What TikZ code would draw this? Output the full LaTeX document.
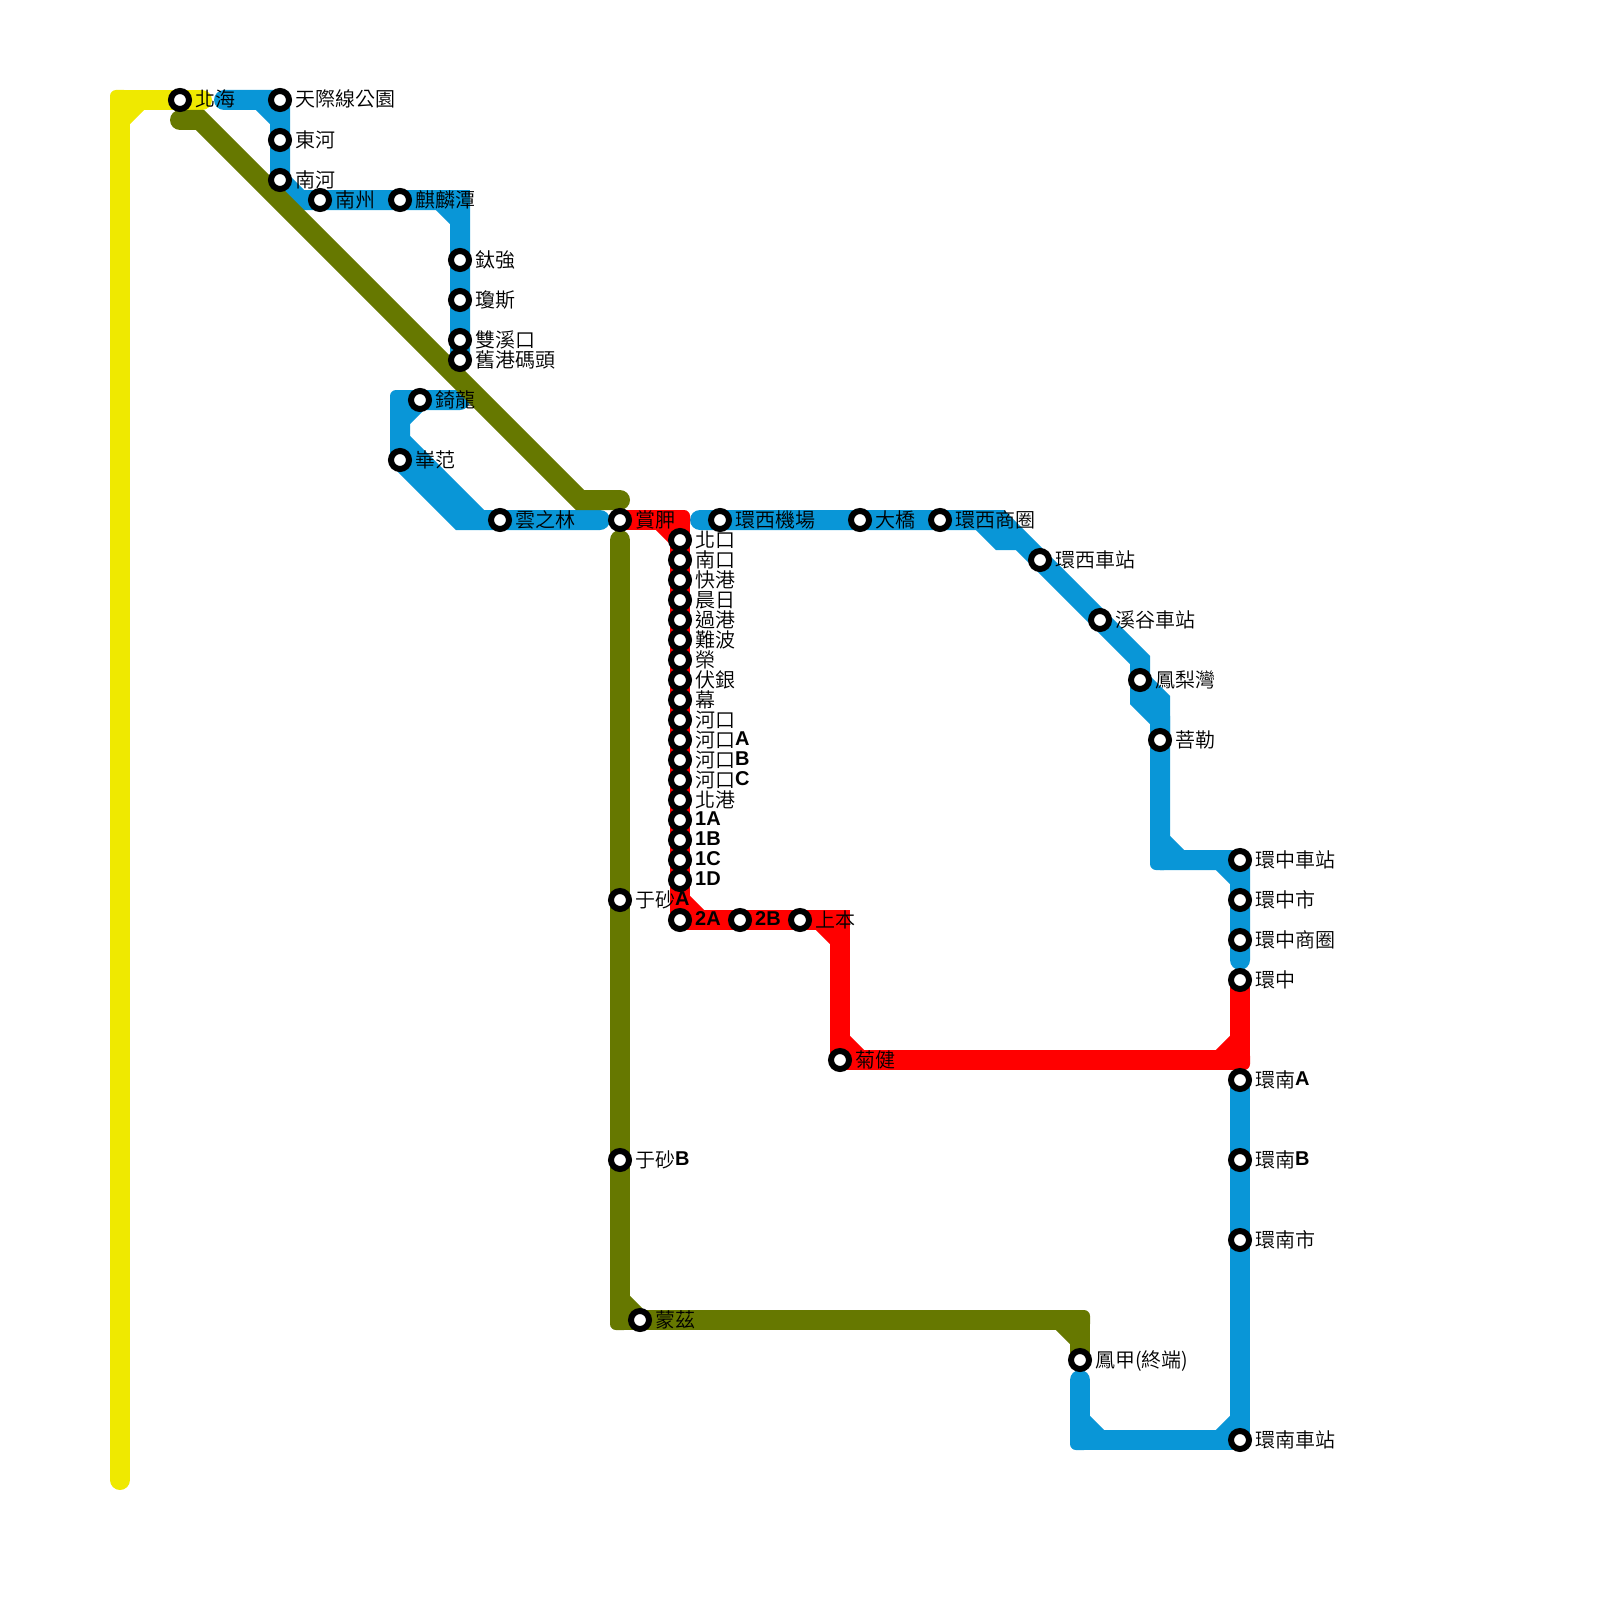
\documentclass[tikz,border=0pt]{standalone}
\usepackage{fontspec}
\setmainfont{Noto Sans CJK TC DemiLight}
\newfontfamily\latinfont{Liberation Sans}
\usetikzlibrary{calc,backgrounds}
\definecolor{metroyellow}{RGB}{239,233,0}
\definecolor{metroblue}{RGB}{9,150,215}
\definecolor{metrored}{RGB}{255,0,0}
\definecolor{metroolive}{RGB}{102,120,0}
\newcommand{\lat}[1]{\raisebox{2pt}{\latinfont\bfseries #1}}
% right-angle bend: outer corner plus inner chamfer
\newcommand{\bend}[5][6pt]{%
  \fill[#2,rounded corners=#1] ($(#4)+(-10,-10)$) rectangle ($(#4)+(10,10)$);
  \draw[#2,line width=20pt] ($(#4)!20pt!(#3)$)--($(#4)!20pt!(#5)$);
}

\begin{document}
\begin{tikzpicture}[
  x=1pt,
  y=-1pt,
  metroline/.style={line width=20pt,line cap=round,line join=miter,miter limit=1.2},
  stn/.style={
    circle,
    draw=black,
    fill=white,
    line width=6pt,
    minimum size=18pt,
    inner sep=0pt,
    outer sep=0pt
  },
  stnlabel/.style={
    font=\fontsize{20}{20}\selectfont,
    text=black,
    inner sep=0pt,
    text height=17pt,
    text depth=3pt,
    xshift=6pt
  }
]
\useasboundingbox (0,0) rectangle (1600,1600);

% Stations, north-west part
\node[stn,label={[stnlabel]right:北海}] (beihai) at (180,100) {};
\node[stn,label={[stnlabel]right:天際線公園}] (tianji) at (280,100) {};
\node[stn,label={[stnlabel]right:東河}] (donghe) at (280,140) {};
\node[stn,label={[stnlabel]right:南河}] (nanhe) at (280,180) {};
\node[stn,label={[stnlabel]right:南州}] (nanzhou) at (320,200) {};
\node[stn,label={[stnlabel]right:麒麟潭}] (qilin) at (400,200) {};
\node[stn,label={[stnlabel]right:鈦強}] (taiqiang) at (460,260) {};
\node[stn,label={[stnlabel]right:瓊斯}] (qiongsi) at (460,300) {};
\node[stn,label={[stnlabel]right:雙溪口}] (shuangxi) at (460,340) {};
\node[stn,label={[stnlabel]right:舊港碼頭}] (jiugang) at (460,360) {};
\node[stn,label={[stnlabel]right:錡龍}] (yilong) at (420,400) {};
\node[stn,label={[stnlabel]right:崋范}] (bifan) at (400,460) {};
\node[stn,label={[stnlabel]right:雲之林}] (yunzhi) at (500,520) {};
\node[stn,label={[stnlabel]right:賞胛}] (binjia) at (620,520) {};

% Stations, central column
\node[stn,label={[stnlabel]right:北口}] (beikou) at (680,540) {};
\node[stn,label={[stnlabel]right:南口}] (nankou) at (680,560) {};
\node[stn,label={[stnlabel]right:快港}] (kuaigang) at (680,580) {};
\node[stn,label={[stnlabel]right:晨日}] (chenri) at (680,600) {};
\node[stn,label={[stnlabel]right:過港}] (guogang) at (680,620) {};
\node[stn,label={[stnlabel]right:難波}] (nanbo) at (680,640) {};
\node[stn,label={[stnlabel]right:榮}] (rong) at (680,660) {};
\node[stn,label={[stnlabel]right:伏銀}] (fuyin) at (680,680) {};
\node[stn,label={[stnlabel]right:幕}] (mu) at (680,700) {};
\node[stn,label={[stnlabel]right:河口}] (hekou) at (680,720) {};
\node[stn,label={[stnlabel]right:河口\lat{A}}] (hekouA) at (680,740) {};
\node[stn,label={[stnlabel]right:河口\lat{B}}] (hekouB) at (680,760) {};
\node[stn,label={[stnlabel]right:河口\lat{C}}] (hekouC) at (680,780) {};
\node[stn,label={[stnlabel]right:北港}] (beigang) at (680,800) {};
\node[stn,label={[stnlabel]right:\lat{1A}}] (oneA) at (680,820) {};
\node[stn,label={[stnlabel]right:\lat{1B}}] (oneB) at (680,840) {};
\node[stn,label={[stnlabel]right:\lat{1C}}] (oneC) at (680,860) {};
\node[stn,label={[stnlabel]right:\lat{1D}}] (oneD) at (680,880) {};
\node[stn,label={[stnlabel]right:\lat{2A}}] (twoA) at (680,920) {};
\node[stn,label={[stnlabel]right:\lat{2B}}] (twoB) at (740,920) {};
\node[stn,label={[stnlabel]right:上本}] (shangben) at (800,920) {};
\node[stn,label={[stnlabel]right:菊健}] (jujian) at (840,1060) {};
\node[stn,label={[stnlabel]right:于砂\lat{A}}] (yushaA) at (620,900) {};
\node[stn,label={[stnlabel]right:于砂\lat{B}}] (yushaB) at (620,1160) {};
\node[stn,label={[stnlabel]right:蒙茲}] (mengzi) at (640,1320) {};
\node[stn,label={[stnlabel]right:鳳甲(終端)}] (fengjia) at (1080,1360) {};

% Stations, eastern part
\node[stn,label={[stnlabel]right:環西機場}] (huanxiji) at (720,520) {};
\node[stn,label={[stnlabel]right:大橋}] (daqiao) at (860,520) {};
\node[stn,label={[stnlabel]right:環西商圈}] (huanxiquan) at (940,520) {};
\node[stn,label={[stnlabel]right:環西車站}] (huanxizhan) at (1040,560) {};
\node[stn,label={[stnlabel]right:溪谷車站}] (xigu) at (1100,620) {};
\node[stn,label={[stnlabel]right:鳳梨灣}] (fengli) at (1140,680) {};
\node[stn,label={[stnlabel]right:菩勒}] (pule) at (1160,740) {};
\node[stn,label={[stnlabel]right:環中車站}] (huanzhongzhan) at (1240,860) {};
\node[stn,label={[stnlabel]right:環中市}] (huanzhongshi) at (1240,900) {};
\node[stn,label={[stnlabel]right:環中商圈}] (huanzhongquan) at (1240,940) {};
\node[stn,label={[stnlabel]right:環中}] (huanzhong) at (1240,980) {};
\node[stn,label={[stnlabel]right:環南\lat{A}}] (huannanA) at (1240,1080) {};
\node[stn,label={[stnlabel]right:環南\lat{B}}] (huannanB) at (1240,1160) {};
\node[stn,label={[stnlabel]right:環南市}] (huannanshi) at (1240,1240) {};
\node[stn,label={[stnlabel]right:環南車站}] (huannanzhan) at (1240,1440) {};

% Free ends and bends of the lines
\coordinate (Yend) at (120,1480);
\coordinate (Ybend) at (120,100);
\coordinate (Ytip) at (202,100);
\coordinate (Atip) at (224,100);
\coordinate (Adiag) at (300,200);
\coordinate (Abend) at (460,200);
\coordinate (Btip) at (460,400);
\coordinate (Bbend) at (400,400);
\coordinate (Bdiag) at (460,520);
\coordinate (Btip2) at (600,520);
\coordinate (Bfromtop) at (400,440);
\coordinate (Bfrombot) at (480,520);
\coordinate (Ctip) at (700,520);
\coordinate (Cone) at (1000,520);
\coordinate (Ctwo) at (1140,660);
\coordinate (Cthree) at (1140,700);
\coordinate (Cfour) at (1160,720);
\coordinate (Cfive) at (1160,860);
\coordinate (Ctip2) at (1240,960);
\coordinate (Cstepa) at (980,520);
\coordinate (Cstepb) at (1000,540);
\coordinate (Cstepc) at (1020,540);
\coordinate (Cstepd) at (1160,700);
\coordinate (Dbend) at (1080,1440);
\coordinate (Dtip) at (1080,1380);
\coordinate (Rbenda) at (680,520);
\coordinate (Rbendb) at (840,920);
\coordinate (Rbendc) at (1240,1060);
\coordinate (Otip) at (180,120);
\coordinate (Oone) at (200,120);
\coordinate (Otwo) at (580,500);
\coordinate (Otip2) at (620,500);
\coordinate (Ptip) at (620,540);
\coordinate (Pbenda) at (620,1320);
\coordinate (Pbendb) at (1080,1320);

\begin{scope}[on background layer]
% Yellow line
\draw[metroline,metroyellow] (Yend)--(Ybend)--(Ytip);
\bend{metroyellow}{Yend}{Ybend}{Ytip}

% Blue lines
\draw[metroline,metroblue] (Atip)--(tianji.center)--(nanhe.center)--(Adiag)--(Abend)--(jiugang.center);
\bend{metroblue}{Atip}{tianji.center}{nanhe.center}
\bend[0pt]{metroblue}{Adiag}{Abend}{jiugang.center}

\draw[metroline,metroblue] (Btip)--(Bbend)--(bifan.center)--(Bdiag)--(Btip2);
\draw[metroline,metroblue] (Bfromtop)--(Bfrombot);
\bend{metroblue}{Btip}{Bbend}{bifan.center}

\draw[metroline,metroblue] (Ctip)--(Cone)--(Ctwo)--(Cthree)--(Cfour)--(Cfive)--(huanzhongzhan.center)--(Ctip2);
\draw[metroline,metroblue,line cap=butt] (Cstepa)--(Cstepb)--(Cstepc);
\draw[metroline,metroblue,line cap=butt] (fengli.center)--(Cstepd)--(pule.center);
\bend{metroblue}{Cfour}{Cfive}{huanzhongzhan.center}
\bend{metroblue}{Cfive}{huanzhongzhan.center}{Ctip2}

\draw[metroline,metroblue] (huannanA.center)--(huannanzhan.center)--(Dbend)--(Dtip);
\bend{metroblue}{huannanA.center}{huannanzhan.center}{Dbend}
\bend{metroblue}{huannanzhan.center}{Dbend}{Dtip}

% Red line
\draw[metroline,metrored] (binjia.center)--(Rbenda)--(twoA.center)--(Rbendb)--(jujian.center)--(Rbendc)--(huanzhong.center);
\bend{metrored}{binjia.center}{Rbenda}{twoA.center}
\bend{metrored}{Rbenda}{twoA.center}{Rbendb}
\bend[0pt]{metrored}{twoA.center}{Rbendb}{jujian.center}
\bend{metrored}{Rbendb}{jujian.center}{Rbendc}
\bend{metrored}{jujian.center}{Rbendc}{huanzhong.center}

% Olive lines
\draw[metroline,metroolive] (Otip)--(Oone)--(Otwo)--(Otip2);
\draw[metroline,metroolive] (Ptip)--(Pbenda)--(Pbendb)--(fengjia.center);
\bend{metroolive}{Ptip}{Pbenda}{Pbendb}
\bend{metroolive}{Pbenda}{Pbendb}{fengjia.center}
\end{scope}
\end{tikzpicture}
\end{document}
